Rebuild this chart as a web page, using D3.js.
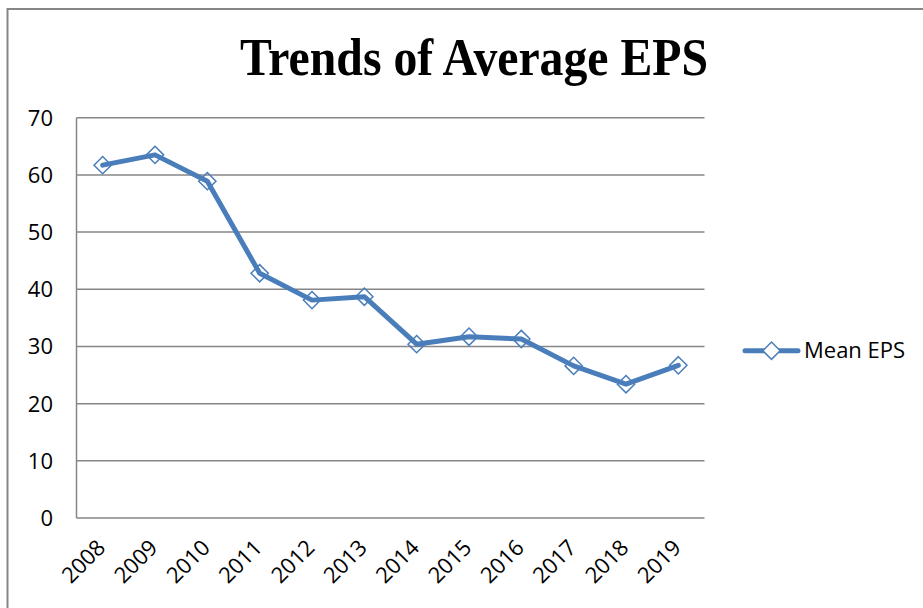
<!DOCTYPE html>
<html>
<head>
<meta charset="utf-8">
<script src="https://cdn.jsdelivr.net/npm/d3@7"></script>
<style>
  html, body { margin: 0; padding: 0; background: #fff; }
  svg { display: block; }
</style>
</head>
<body>
<svg id="chart" width="923" height="608"></svg>
<script>
const years = ["2008","2009","2010","2011","2012","2013","2014","2015","2016","2017","2018","2019"];
const meanEPS = [61.7, 63.5, 58.9, 42.8, 38.1, 38.7, 30.4, 31.7, 31.3, 26.6, 23.4, 26.7];
const yTicks = [0, 10, 20, 30, 40, 50, 60, 70];
const titleText = "Trends of Average EPS";
const seriesName = "Mean EPS";

const svg = d3.select("#chart");
const blue = "#4a7ebb";
const grey = "#868686";
const sans = "'Open Sans', 'DejaVu Sans', sans-serif";

// outer chart border
svg.append("rect")
  .attr("x", 7.5).attr("y", 9)
  .attr("width", 1000).attr("height", 1000)
  .attr("fill", "#fff")
  .attr("stroke", grey).attr("stroke-width", 2);

const plot = { left: 76.5, right: 704.5, top: 117.7, bottom: 518 };

const x = d3.scaleBand().domain(years).range([plot.left, plot.right]);
const y = d3.scaleLinear().domain([0, 70]).range([plot.bottom, plot.top]);
const cx = d => x(d) + x.bandwidth() / 2;

// title
svg.append("text")
  .attr("x", 474).attr("y", 75)
  .attr("text-anchor", "middle")
  .attr("font-family", "'Liberation Serif', 'Times New Roman', serif")
  .attr("font-weight", "bold")
  .attr("font-size", 52)
  .attr("textLength", 468)
  .attr("lengthAdjust", "spacingAndGlyphs")
  .text(titleText);

// gridlines
svg.append("g").selectAll("line")
  .data(yTicks.filter(t => t > 0))
  .join("line")
  .attr("x1", plot.left).attr("x2", plot.right)
  .attr("y1", d => y(d)).attr("y2", d => y(d))
  .attr("stroke", grey).attr("stroke-width", 1.5);

// axes lines
svg.append("line")
  .attr("x1", plot.left).attr("x2", plot.left)
  .attr("y1", plot.top).attr("y2", plot.bottom)
  .attr("stroke", grey).attr("stroke-width", 1.5);
svg.append("line")
  .attr("x1", plot.left).attr("x2", plot.right)
  .attr("y1", plot.bottom).attr("y2", plot.bottom)
  .attr("stroke", grey).attr("stroke-width", 1.5);

// y labels
svg.append("g").selectAll("text")
  .data(yTicks)
  .join("text")
  .attr("x", 53).attr("y", d => y(d))
  .attr("dy", "0.36em")
  .attr("text-anchor", "end")
  .attr("font-family", sans).attr("font-size", 22)
  .attr("fill", "#000")
  .text(d => d);

// x labels
svg.append("g").selectAll("text")
  .data(years)
  .join("text")
  .attr("transform", d => `translate(${cx(d) + 4},${549}) rotate(-45)`)
  .attr("text-anchor", "end")
  .attr("font-family", sans).attr("font-size", 22)
  .attr("fill", "#000")
  .text(d => d);

// line
const line = d3.line()
  .x((d, i) => cx(years[i]))
  .y(d => y(d));

svg.append("path")
  .datum(meanEPS)
  .attr("d", line)
  .attr("fill", "none")
  .attr("stroke", blue)
  .attr("stroke-width", 5)
  .attr("stroke-linejoin", "round")
  .attr("stroke-linecap", "round");

const diamond = d3.symbol().type(d3.symbolDiamond2).size(190);

svg.append("g").selectAll("path")
  .data(meanEPS)
  .join("path")
  .attr("transform", (d, i) => `translate(${cx(years[i])},${y(d)})`)
  .attr("d", diamond)
  .attr("fill", "none")
  .attr("stroke", blue)
  .attr("stroke-width", 1.5);

// legend
const lg = svg.append("g");
lg.append("line")
  .attr("x1", 745).attr("x2", 798)
  .attr("y1", 350.7).attr("y2", 350.7)
  .attr("stroke", blue).attr("stroke-width", 5)
  .attr("stroke-linecap", "round");
lg.append("path")
  .attr("transform", "translate(771.5,350.7)")
  .attr("d", diamond)
  .attr("fill", "#fff")
  .attr("stroke", blue)
  .attr("stroke-width", 1.5);
lg.append("text")
  .attr("x", 804).attr("y", 358)
  .attr("font-family", sans).attr("font-size", 22)
  .attr("fill", "#000")
  .text(seriesName);
</script>
</body>
</html>
